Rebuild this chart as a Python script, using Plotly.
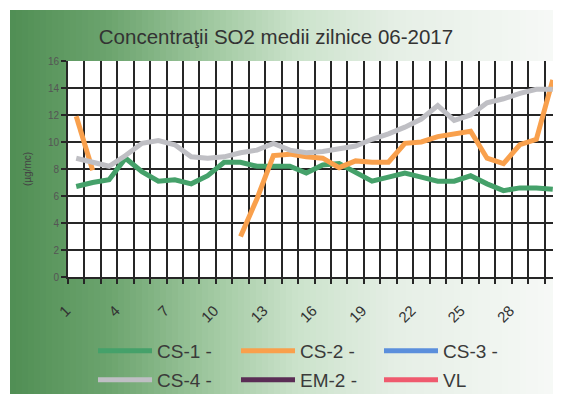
import plotly.graph_objects as go

# ---------------- data ----------------
days = list(range(1, 31))
tick_days = [1, 4, 7, 10, 13, 16, 19, 22, 25, 28]
tick_labels = [str(d) for d in tick_days]
y_ticks = [0, 2, 4, 6, 8, 10, 12, 14, 16]

cs1 = [6.7, 7.0, 7.2, 8.8, 7.8, 7.1, 7.2, 6.9, 7.5, 8.5,
       8.5, 8.2, 8.2, 8.2, 7.7, 8.3, 8.4, 7.8, 7.1, 7.4,
       7.7, 7.4, 7.1, 7.1, 7.5, 6.9, 6.4, 6.6, 6.6, 6.5]
cs2 = [11.9, 7.9, None, None, None, None, None, None, None, None,
       3.0, 5.8, 9.0, 9.1, 8.9, 8.8, 8.1, 8.6, 8.5, 8.5,
       9.9, 10.0, 10.4, 10.6, 10.8, 8.8, 8.4, 9.8, 10.2, 14.6]
cs3 = [None] * 30
cs4 = [8.8, 8.5, 8.2, 9.0, 9.9, 10.1, 9.8, 8.9, 8.8, 8.9,
       9.2, 9.4, 9.9, 9.4, 9.2, 9.3, 9.5, 9.7, 10.2, 10.6,
       11.1, 11.7, 12.7, 11.6, 12.0, 12.9, 13.2, 13.6, 13.9, 13.9]
em2 = [None] * 30
vl = [None] * 30

series_names = ["CS-1 -", "CS-2 -", "CS-3 -", "CS-4 -", "EM-2 -", "VL"]
series_values = [cs1, cs2, cs3, cs4, em2, vl]
series_colors = ["#45a16a", "#f9a04c", "#5b8fdc", "#bfbfc4", "#5a2d55", "#ef5a6e"]
series_legend = ["legend", "legend", "legend", "legend2", "legend2", "legend2"]

title_text = "Concentraţii SO2 medii zilnice 06-2017"
y_title = "(µg/mc)"

# ---------------- layout geometry ----------------
OFF = 8                          # page body margin
W, H = 561 - OFF, 402 - 2 * OFF  # figure size that fits the window without scrolling
ML, MR, MT = 60, 0, 53
MB = H - (277 - OFF)
PW, PH = W - ML - MR, H - MT - MB


def px2x(px):   # screen px -> paper x
    return (px - OFF - ML) / PW


def py2y(py):   # screen py -> paper y
    return (H - MB - (py - OFF)) / PH


fig = go.Figure()
for name, vals, col, lg in zip(series_names, series_values, series_colors, series_legend):
    fig.add_trace(go.Scatter(
        x=days, y=vals, name=name, mode="lines",
        line=dict(color=col, width=5),
        connectgaps=False, legend=lg, hoverinfo="skip",
    ))

# background gradient (scan look)
stops = [(10, (80, 142, 84)), (110, (108, 164, 110)), (210, (160, 200, 160)),
         (300, (204, 227, 204)), (400, (230, 239, 230)), (561, (247, 249, 247))]


def grad_color(px):
    for (a, ca), (b, cb) in zip(stops[:-1], stops[1:]):
        if a <= px <= b:
            t = (px - a) / (b - a)
            return "rgb(%d,%d,%d)" % tuple(round(ca[i] + (cb[i] - ca[i]) * t) for i in range(3))
    return "rgb(%d,%d,%d)" % stops[-1][1]


shapes = []
step = 6
px = 10
while px < 561:
    shapes.append(dict(type="rect", xref="paper", yref="paper", layer="below",
                       x0=px2x(px), x1=px2x(min(px + step + 1, 563)),
                       y0=py2y(10), y1=py2y(404),
                       fillcolor=grad_color(px + step / 2), line=dict(width=0)))
    px += step
shapes.append(dict(type="rect", xref="paper", yref="paper", layer="below",
                   x0=0, x1=1, y0=0, y1=1, fillcolor="white", line=dict(width=0)))

grid_col = "#262626"
leg_common = dict(orientation="h", xanchor="left", yanchor="middle",
                  font=dict(size=19, color="#3a3a3a"), bgcolor="rgba(0,0,0,0)",
                  itemwidth=54, entrywidth=74, entrywidthmode="pixels")

fig.update_layout(
    width=W, height=H,
    margin=dict(l=ML, r=MR, t=MT, b=MB, autoexpand=False),
    paper_bgcolor="white", plot_bgcolor="white",
    font=dict(family="Liberation Sans, Arial, sans-serif", color="#3a3a3a"),
    title=dict(text=title_text, x=(276 - OFF) / W, xanchor="center",
               y=1 - (37 - OFF) / H, yanchor="middle",
               font=dict(size=20.5, color="#333333")),
    shapes=shapes,
    showlegend=True,
    legend=dict(x=px2x(93), y=py2y(351), **leg_common),
    legend2=dict(x=px2x(93), y=py2y(380), **leg_common),
    xaxis=dict(range=[0.5, 30.5], tickmode="array", tickvals=tick_days, ticktext=tick_labels,
               tickangle=-45, tickfont=dict(size=15, color="#333333"),
               showgrid=False, ticks="", zeroline=False,
               ticklabelshift=-10, ticklabelstandoff=17,
               showline=True, linecolor=grid_col, linewidth=2,
               minor=dict(tick0=0.5, dtick=1, showgrid=True, gridcolor=grid_col, gridwidth=2,
                          ticks="outside", ticklen=5, tickcolor=grid_col, tickwidth=1.5)),
    yaxis=dict(range=[0, 16], tickmode="array", tickvals=y_ticks,
               tickfont=dict(size=10, color="#555555"),
               showgrid=True, gridcolor=grid_col, gridwidth=2, zeroline=False,
               ticks="outside", ticklen=5, tickcolor=grid_col, tickwidth=2,
               showline=True, linecolor=grid_col, linewidth=2,
               title=dict(text=y_title, font=dict(size=10, color="#444444"), standoff=14)),
)

fig.write_html("out.html")
